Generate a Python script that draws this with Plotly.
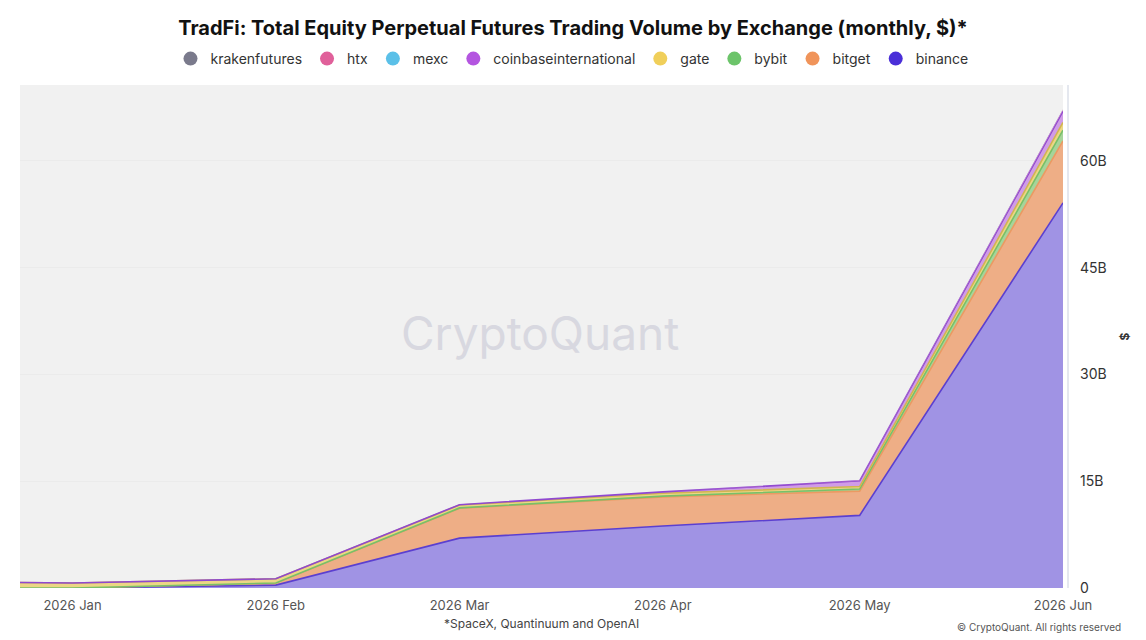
import plotly.graph_objects as go

dates = ["2025-12-01", "2026-01-01", "2026-02-01", "2026-03-01", "2026-04-01", "2026-05-01", "2026-06-01"]

binance = [0, 0, 0.4, 7.0, 8.7, 10.2, 54.1]
bitget = [0, 0, 0.3, 4.2, 4.1, 3.4, 8.7]
bybit = [0, 0, 0, 0.05, 0.1, 0.3, 1.5]
gate = [1.0, 0.7, 0.6, 0.4, 0.4, 0.35, 1.1]
coinbaseinternational = [0, 0, 0, 0.05, 0.2, 0.8, 1.6]
mexc = [0, 0, 0, 0, 0, 0.02, 0.1]
htx = [0, 0, 0, 0, 0, 0.02, 0.1]
krakenfutures = [0, 0, 0, 0, 0, 0.01, 0.05]

series = [
    ("binance", binance, "#4a2fd8", "#5b3fd0", "#a093e4", 1.6),
    ("bitget", bitget, "#f0945a", "#eb9a62", "#eeae86", 1.6),
    ("bybit", bybit, "#6cc46a", "#78c068", "#a6d49a", 1.6),
    ("gate", gate, "#f0cf5a", "#d2b550", "#ecd685", 1.6),
    ("coinbaseinternational", coinbaseinternational, "#b455e0", "#8f48d0", "#d09ce6", 1.6),
    ("mexc", mexc, "#5bc0e8", "#5bc0e8", "#a8daf0", 0),
    ("htx", htx, "#e0609a", "#e0609a", "#eaa8c6", 0),
    ("krakenfutures", krakenfutures, "#7a7a8c", "#7a7a8c", "#b8b8c2", 0),
]

fig = go.Figure()
for name, vals, col, lcol, fcol, lw in series:
    fig.add_trace(go.Scatter(
        x=dates, y=[v * 1e9 for v in vals], name=name, mode="lines",
        stackgroup="one", line=dict(color=lcol, width=lw), fillcolor=fcol,
        showlegend=False, hoverinfo="x+y+name",
    ))
for name, vals, col, lcol, fcol, lw in series:
    fig.add_trace(go.Scatter(
        x=[None], y=[None], name=name, mode="markers",
        marker=dict(color=col, size=14, symbol="circle"), showlegend=True,
    ))

fig.update_layout(
    width=1146, height=640,
    margin=dict(l=20, r=83, t=85, b=52, autoexpand=False),
    paper_bgcolor="white", plot_bgcolor="#f1f1f1",
    font=dict(family="Inter, Roboto, sans-serif", color="#333333", size=13),
    title=dict(text="<b>TradFi: Total Equity Perpetual Futures Trading Volume by Exchange (monthly, $)*</b>",
               x=0.5, xref="container", xanchor="center", y=1 - 28 / 640, yanchor="middle",
               font=dict(size=20, color="#111111")),
    legend=dict(orientation="h", traceorder="reversed", x=(572 - 20) / 1043, xref="paper", xanchor="center",
                y=1 + (85 - 59) / 503, yanchor="middle", font=dict(size=14, color="#333333"),
                bgcolor="rgba(0,0,0,0)"),
    showlegend=True,
    xaxis=dict(type="date", range=["2025-12-24", "2026-06-01"], tick0="2026-01-01", dtick="M1",
               tickformat="%Y %b", showgrid=False, zeroline=False, showline=False,
               ticks="", tickfont=dict(size=13, color="#555555"), ticklabelstandoff=8),
    yaxis=dict(side="right", range=[0, 70.65e9], tickvals=[0, 15e9, 30e9, 45e9, 60e9],
               ticktext=["0", "15B", "30B", "45B", "60B"], showgrid=True, gridcolor="#ebebeb",
               zeroline=False, showline=False, ticks="", tickfont=dict(size=14, color="#333333"),
               ticklabelstandoff=16,
               title=dict(text="<b>$</b>", font=dict(size=12, color="#333333"), standoff=14)),
    shapes=[dict(type="line", xref="paper", yref="paper", x0=1 + 5 / 1043, x1=1 + 5 / 1043,
                 y0=0, y1=1, line=dict(color="#dde0ea", width=1.5))],
    annotations=[
        dict(text="CryptoQuant", xref="paper", yref="paper", x=(540 - 20) / 1043, y=(588 - 333) / 503,
             showarrow=False, font=dict(size=46, color="#d8d8e0", family="Inter, sans-serif")),
        dict(text="*SpaceX, Quantinuum and OpenAI", xref="paper", yref="paper", x=(541 - 20) / 1043,
             y=-(623 - 588) / 503, showarrow=False, yanchor="middle",
             font=dict(size=12, color="#444444")),
        dict(text="© CryptoQuant. All rights reserved", xref="paper", yref="paper", x=(1123 - 20) / 1043,
             y=-(627 - 588) / 503, xanchor="right", yanchor="middle", showarrow=False,
             font=dict(size=10, color="#555555")),
    ],
)

fig.write_html("out.html")
